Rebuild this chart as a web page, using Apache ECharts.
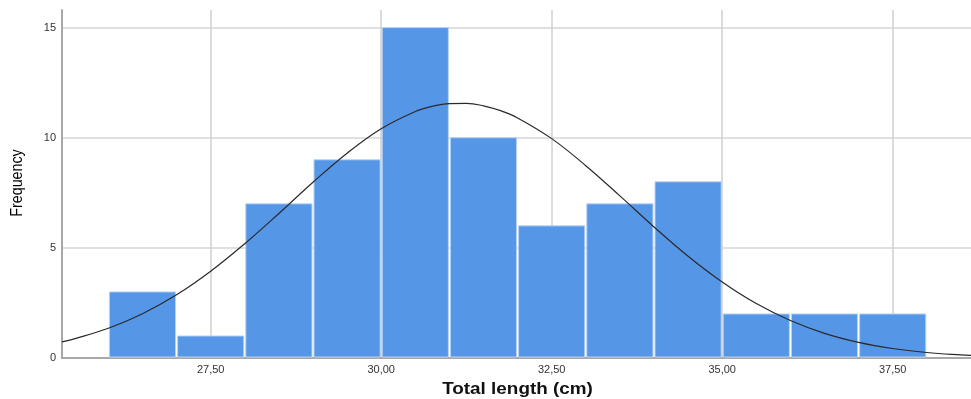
<!DOCTYPE html>
<html>
<head>
<meta charset="utf-8">
<script src="https://cdn.jsdelivr.net/npm/echarts@6/dist/echarts.min.js"></script>
<style>
html,body{margin:0;padding:0;background:#fff;}
#chart{width:971px;height:399px;}
</style>
</head>
<body>
<div id="chart"></div>
<script>
// Histogram bins (cm) and frequencies
const binStarts = [26, 27, 28, 29, 30, 31, 32, 33, 34, 35, 36, 37];
const binEnds   = [27, 28, 29, 30, 31, 32, 33, 34, 35, 36, 37, 38];
const frequencies = [3, 1, 7, 9, 15, 10, 6, 7, 8, 2, 2, 2];

// Fitted normal curve
const curveX = [25.32, 25.5, 26, 26.5, 27, 27.5, 28, 28.5, 29, 29.5, 30, 30.5, 30.75, 31, 31.25, 31.5, 31.75, 32, 32.5, 33, 33.5, 34, 34.5, 35, 35.5, 36, 36.5, 37, 37.5, 38, 38.5, 38.65];
const curveY = [0.73, 0.87, 1.35, 2.01, 2.87, 3.94, 5.19, 6.56, 7.98, 9.30, 10.41, 11.19, 11.43, 11.55, 11.56, 11.45, 11.23, 10.90, 9.96, 8.73, 7.36, 5.95, 4.62, 3.45, 2.47, 1.70, 1.12, 0.71, 0.43, 0.25, 0.14, 0.12];

// Axis ticks
const xTicks = [27.5, 30, 32.5, 35, 37.5];
const xTickLabels = ['27,50', '30,00', '32,50', '35,00', '37,50'];
const yTicks = [0, 5, 10, 15];
const yTickLabels = ['0', '5', '10', '15'];

// Axis titles
const xTitle = 'Total length (cm)';
const yTitle = 'Frequency';

const barData = binStarts.map((s, i) => [s, binEnds[i], frequencies[i]]);
const curveData = curveX.map((x, i) => [x, curveY[i]]);

const chart = echarts.init(document.getElementById('chart'), null, {renderer: 'canvas'});
chart.setOption({
  animation: false,
  backgroundColor: '#fff',
  grid: {left: 62, right: 0, top: 10, bottom: 41, containLabel: false, outerBoundsMode: 'none'},
  graphic: [{
    type: 'text',
    x: 17, y: 183,
    rotation: Math.PI / 2,
    scaleX: 0.84,
    style: {
      text: yTitle,
      fontFamily: 'Liberation Sans, Arial, sans-serif',
      fontSize: 17,
      fill: '#000',
      align: 'center',
      verticalAlign: 'middle'
    }
  }, {
    type: 'text',
    x: 517.5, y: 390,
    scaleX: 1.18,
    style: {
      text: xTitle,
      fontFamily: 'Liberation Sans, Arial, sans-serif',
      fontWeight: 'bold',
      fontSize: 16,
      fill: '#111',
      align: 'center',
      verticalAlign: 'middle'
    }
  }],
  xAxis: {
    type: 'value',
    min: 25.32,
    max: 38.648,
    axisLine: {show: true, onZero: false, lineStyle: {color: '#a8a8a8', width: 2}},
    axisTick: {show: false, customValues: xTicks},
    axisLabel: {
      customValues: xTicks,
      formatter: v => xTickLabels[xTicks.indexOf(v)] ?? '',
      fontFamily: 'Liberation Sans, Arial, sans-serif', fontSize: 11, color: '#333', margin: 6
    },
    splitLine: {show: true, lineStyle: {color: '#cfcfcf', width: 1.5}}
  },
  yAxis: {
    type: 'value',
    min: 0,
    max: 15.8,
    axisLine: {show: true, lineStyle: {color: '#a8a8a8', width: 2}},
    axisTick: {show: false, customValues: yTicks},
    axisLabel: {
      customValues: yTicks,
      formatter: v => yTickLabels[yTicks.indexOf(v)] ?? '',
      fontFamily: 'Liberation Sans, Arial, sans-serif', fontSize: 11, color: '#333', margin: 6
    },
    splitLine: {show: true, lineStyle: {color: '#d6d6d6', width: 1.5}}
  },
  series: [
    {
      type: 'custom',
      data: barData,
      encode: {x: [0, 1], y: 2},
      z: 2,
      renderItem: function (params, api) {
        const p0 = api.coord([api.value(0), api.value(2)]);
        const p1 = api.coord([api.value(1), 0]);
        return {
          type: 'rect',
          shape: {x: p0[0] + 1, y: p0[1], width: p1[0] - p0[0] - 2, height: p1[1] - p0[1] - 1},
          style: {fill: '#5596e6', stroke: '#b9d3f3', lineWidth: 1}
        };
      }
    },
    {
      type: 'line',
      data: curveData,
      smooth: 0.4,
      showSymbol: false,
      symbol: 'none',
      z: 5,
      lineStyle: {color: '#2a2a2a', width: 1.2}
    }
  ]
});
</script>
</body>
</html>
